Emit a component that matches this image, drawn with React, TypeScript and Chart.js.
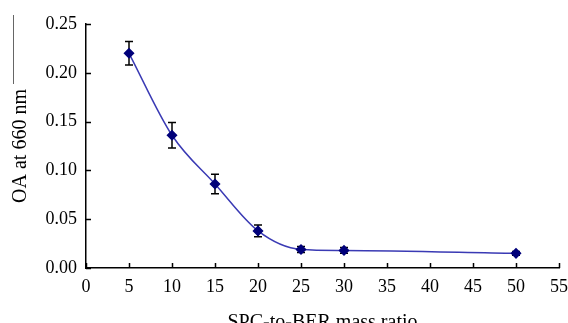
import { useEffect, useRef } from "react";
import { Chart, registerables } from "chart.js";

Chart.register(...registerables);

const ratios = [5, 10, 15, 20, 25, 30, 50];
const oaValues = [0.22, 0.136, 0.086, 0.038, 0.019, 0.018, 0.015];
const oaErrors = [0.012, 0.013, 0.01, 0.006, 0.003, 0.003, 0.002];
const xTickValues = [0, 5, 10, 15, 20, 25, 30, 35, 40, 45, 50, 55];
const yTickValues = [0, 0.05, 0.1, 0.15, 0.2, 0.25];
const xTitle = "SPC-to-BER mass ratio";
const yTitle = "OA at 660 nm";

const FONT = "'Liberation Serif', 'Times New Roman', serif";

const extrasPlugin = {
  id: "extras",
  beforeDatasetsDraw(chart: any) {
    const ctx = chart.ctx;
    const xs = chart.scales.x;
    const ys = chart.scales.y;
    ctx.save();
    ctx.strokeStyle = "#000";
    ctx.lineWidth = 1.5;
    ratios.forEach((r, i) => {
      const x = xs.getPixelForValue(r);
      const yt = ys.getPixelForValue(oaValues[i] + oaErrors[i]);
      const yb = ys.getPixelForValue(oaValues[i] - oaErrors[i]);
      ctx.beginPath();
      ctx.moveTo(x, yt);
      ctx.lineTo(x, yb);
      ctx.moveTo(x - 4, yt);
      ctx.lineTo(x + 4, yt);
      ctx.moveTo(x - 4, yb);
      ctx.lineTo(x + 4, yb);
      ctx.stroke();
    });
    ctx.restore();
  },
  afterDraw(chart: any) {
    const ctx = chart.ctx;
    const xs = chart.scales.x;
    const ys = chart.scales.y;
    const area = chart.chartArea;
    ctx.save();
    ctx.strokeStyle = "#000";
    ctx.lineWidth = 1.5;
    ctx.beginPath();
    xTickValues.forEach((v) => {
      const x = Math.round(xs.getPixelForValue(v)) + 0.5;
      ctx.moveTo(x, area.bottom);
      ctx.lineTo(x, area.bottom - 5);
    });
    yTickValues.forEach((v) => {
      const y = Math.round(ys.getPixelForValue(v)) + 0.5;
      ctx.moveTo(area.left, y);
      ctx.lineTo(area.left + 5, y);
    });
    ctx.stroke();
    // thin grey edge line at the far left (scan artefact in the source)
    ctx.strokeStyle = "#666";
    ctx.lineWidth = 1;
    ctx.beginPath();
    ctx.moveTo(13.5, 15);
    ctx.lineTo(13.5, 84);
    ctx.stroke();
    ctx.restore();
  },
};

export default function App() {
  const ref = useRef<HTMLCanvasElement | null>(null);

  useEffect(() => {
    if (!ref.current) return;
    const chart = new Chart(ref.current, {
      type: "line",
      data: {
        datasets: [
          {
            data: ratios.map((r, i) => ({ x: r, y: oaValues[i] })),
            borderColor: "#3a3ab4",
            borderWidth: 1.5,
            cubicInterpolationMode: "monotone",
            pointStyle: "rectRot",
            pointRadius: 4.5,
            pointBackgroundColor: "#00007a",
            pointBorderColor: "#00007a",
            fill: false,
          },
        ],
      },
      options: {
        responsive: false,
        animation: false,
        devicePixelRatio: 1,
        layout: { padding: { top: 24, right: 9, left: 0, bottom: 0 } },
        plugins: {
          legend: { display: false },
          tooltip: { enabled: false },
        },
        scales: {
          x: {
            type: "linear",
            min: 0,
            max: 55,
            afterFit: (s: any) => {
              s.height = 67;
              s.paddingLeft = 0;
              s.paddingRight = 0;
            },
            afterBuildTicks: (s: any) => {
              s.ticks = xTickValues.map((v) => ({ value: v }));
            },
            grid: { display: false, drawTicks: false },
            border: { display: true, color: "#000", width: 1.5 },
            ticks: {
              color: "#000",
              padding: 8,
              maxRotation: 0,
              autoSkip: false,
              font: { family: FONT, size: 18 },
              callback: (v: any) => String(v),
            },
            title: {
              display: true,
              text: xTitle,
              color: "#000",
              font: { family: FONT, size: 20 },
              padding: { top: 10, bottom: 0 },
            },
          },
          y: {
            type: "linear",
            min: 0,
            max: 0.25,
            afterFit: (s: any) => {
              s.width = 86;
              s.paddingTop = 0;
              s.paddingBottom = 0;
            },
            afterBuildTicks: (s: any) => {
              s.ticks = yTickValues.map((v) => ({ value: v }));
            },
            grid: { display: false, drawTicks: false },
            border: { display: true, color: "#000", width: 1.5 },
            ticks: {
              color: "#000",
              padding: 9,
              font: { family: FONT, size: 18 },
              callback: (v: any) => Number(v).toFixed(2),
            },
            title: {
              display: true,
              text: yTitle,
              color: "#000",
              font: { family: FONT, size: 20 },
              padding: { top: 9, bottom: 0 },
            },
          },
        },
      },
      plugins: [extrasPlugin],
    });
    return () => chart.destroy();
  }, []);

  return (
    <div style={{ position: "fixed", left: 0, top: 0, width: 568, height: 335, background: "#fff" }}>
      <canvas ref={ref} width={568} height={335} style={{ display: "block" }} />
    </div>
  );
}
